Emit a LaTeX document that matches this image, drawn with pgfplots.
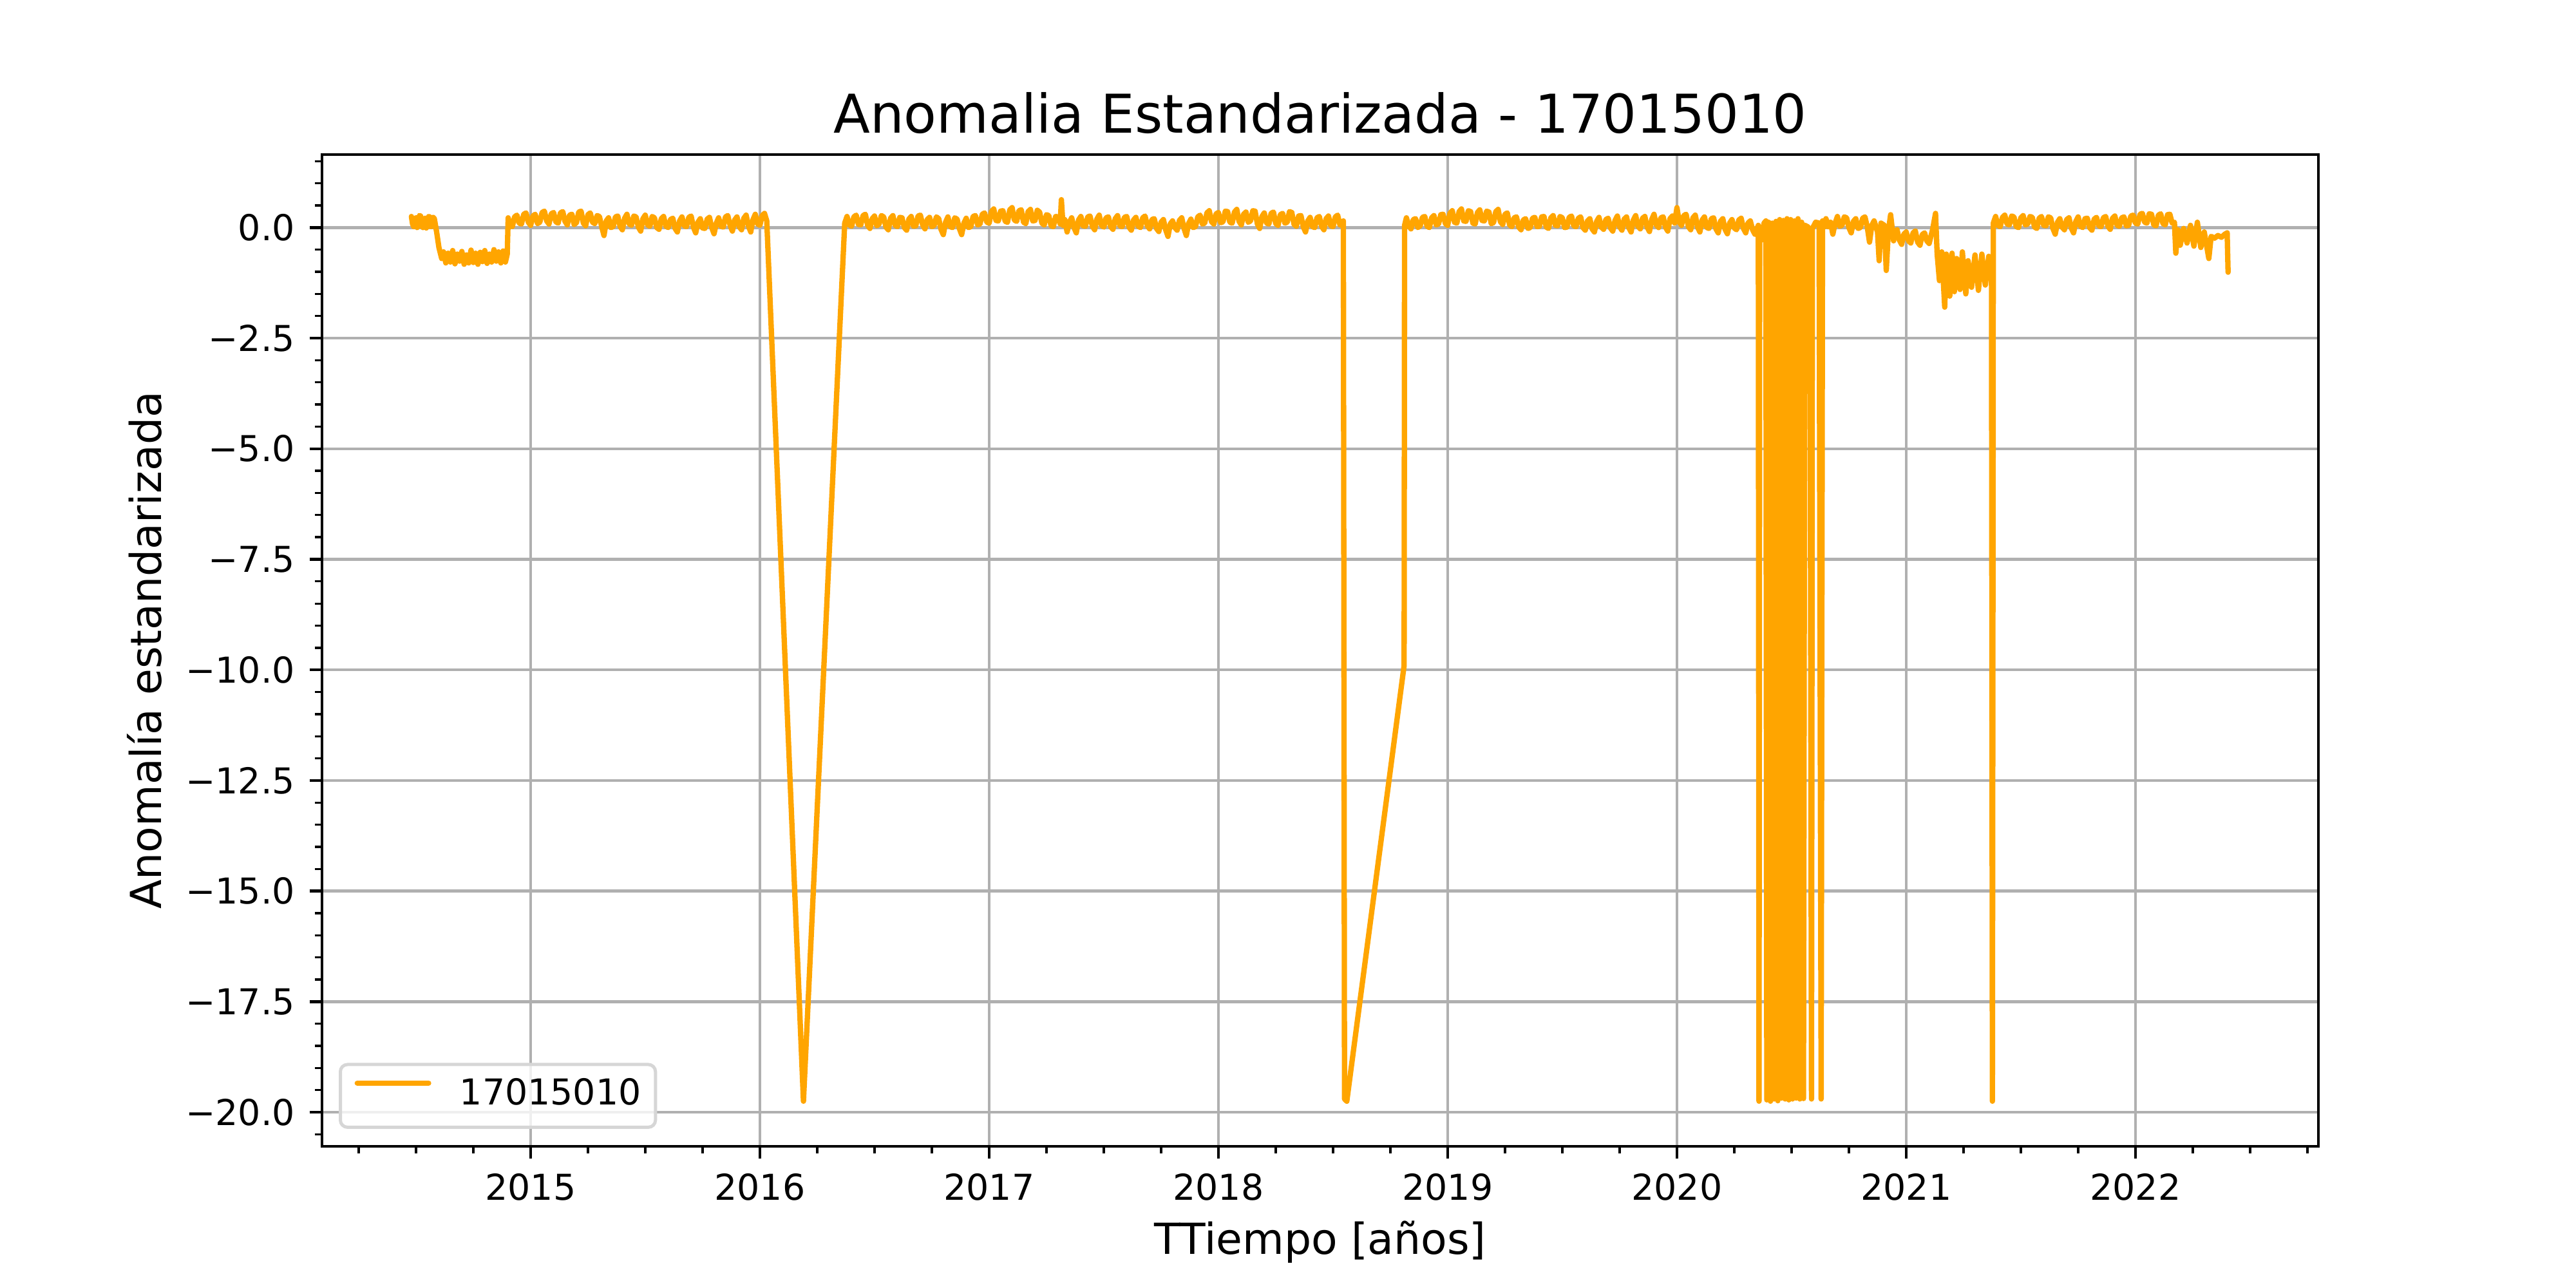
\documentclass[border=0pt]{standalone}
\usepackage{fontspec}
\setmainfont{DejaVu Sans}
\usepackage{pgfplots}
\usepackage{pgfplotstable}
\pgfplotsset{compat=1.18}
\definecolor{mplorange}{HTML}{FFA500}
\definecolor{gridgray}{HTML}{B0B0B0}
\definecolor{legedge}{HTML}{D6D6D6}
\pgfplotstableread{
x y
2014.480 0.25
2014.485 0.08
2014.490 0.02
2014.495 0.18
2014.500 0.22
2014.505 0.00
2014.510 0.05
2014.515 0.27
2014.520 0.26
2014.525 0.04
2014.530 0.00
2014.535 0.19
2014.540 0.21
2014.545 -0.01
2014.550 0.06
2014.555 0.25
2014.560 0.24
2014.565 0.02
2014.570 0.03
2014.575 0.23
2014.580 0.20
2014.590 -0.10
2014.600 -0.45
2014.612 -0.70
2014.620 -0.55
2014.630 -0.80
2014.640 -0.58
2014.650 -0.78
2014.660 -0.52
2014.670 -0.82
2014.680 -0.60
2014.690 -0.76
2014.700 -0.54
2014.710 -0.83
2014.720 -0.62
2014.730 -0.80
2014.740 -0.51
2014.750 -0.79
2014.760 -0.58
2014.770 -0.83
2014.780 -0.56
2014.790 -0.77
2014.800 -0.52
2014.810 -0.81
2014.820 -0.60
2014.830 -0.78
2014.840 -0.50
2014.850 -0.76
2014.860 -0.55
2014.870 -0.80
2014.880 -0.53
2014.890 -0.78
2014.898 -0.60
2014.902 0.22
2014.91 0.05
2014.92 0.02
2014.93 0.24
2014.94 0.28
2014.95 0.10
2014.96 0.08
2014.97 0.30
2014.98 0.33
2014.99 0.12
2015.00 0.05
2015.01 0.26
2015.02 0.30
2015.03 0.09
2015.04 0.12
2015.05 0.34
2015.06 0.37
2015.07 0.15
2015.08 0.08
2015.09 0.31
2015.10 0.34
2015.11 0.13
2015.12 0.10
2015.13 0.33
2015.14 0.36
2015.15 0.14
2015.16 0.06
2015.17 0.28
2015.18 0.30
2015.19 0.07
2015.20 0.11
2015.21 0.35
2015.22 0.37
2015.23 0.10
2015.24 0.04
2015.25 0.29
2015.26 0.33
2015.27 0.12
2015.28 0.09
2015.29 0.27
2015.30 0.25
2015.31 0.02
2015.32 -0.18
2015.33 0.15
2015.34 0.22
2015.35 0.00
2015.36 0.02
2015.37 0.24
2015.38 0.26
2015.39 0.03
2015.40 -0.05
2015.41 0.21
2015.42 0.30
2015.43 0.08
2015.44 0.05
2015.45 0.26
2015.46 0.24
2015.47 0.01
2015.48 -0.08
2015.49 0.20
2015.50 0.28
2015.51 0.06
2015.52 0.03
2015.53 0.25
2015.54 0.22
2015.55 0.00
2015.56 -0.04
2015.57 0.20
2015.58 0.25
2015.59 0.03
2015.60 0.00
2015.61 0.18
2015.62 0.21
2015.63 -0.02
2015.64 -0.10
2015.65 0.15
2015.66 0.24
2015.67 0.04
2015.68 0.02
2015.69 0.23
2015.70 0.26
2015.71 0.01
2015.72 -0.12
2015.73 0.12
2015.74 0.20
2015.75 -0.01
2015.76 -0.02
2015.77 0.19
2015.78 0.23
2015.79 0.00
2015.80 -0.14
2015.81 0.10
2015.82 0.22
2015.83 0.03
2015.84 0.01
2015.85 0.24
2015.86 0.27
2015.87 0.05
2015.88 -0.08
2015.89 0.17
2015.90 0.24
2015.91 0.02
2015.92 -0.05
2015.93 0.21
2015.94 0.28
2015.95 0.04
2015.96 -0.10
2015.97 0.18
2015.98 0.30
2015.99 0.08
2016.00 0.05
2016.01 0.27
2016.02 0.32
2016.03 0.15
2016.19 -19.75
2016.37 0.10
2016.38 0.25
2016.39 0.06
2016.40 0.03
2016.41 0.24
2016.42 0.28
2016.43 0.07
2016.44 0.06
2016.45 0.27
2016.46 0.30
2016.47 0.05
2016.48 -0.02
2016.49 0.20
2016.50 0.26
2016.51 0.04
2016.52 0.08
2016.53 0.27
2016.54 0.24
2016.55 0.01
2016.56 -0.05
2016.57 0.21
2016.58 0.27
2016.59 0.05
2016.60 0.02
2016.61 0.23
2016.62 0.22
2016.63 0.00
2016.64 -0.06
2016.65 0.19
2016.66 0.25
2016.67 0.03
2016.68 0.04
2016.69 0.26
2016.70 0.28
2016.71 0.06
2016.72 -0.03
2016.73 0.18
2016.74 0.23
2016.75 0.02
2016.76 0.05
2016.77 0.24
2016.78 0.20
2016.79 -0.04
2016.80 -0.16
2016.81 0.12
2016.82 0.24
2016.83 0.02
2016.84 0.00
2016.85 0.22
2016.86 0.19
2016.87 -0.02
2016.88 -0.16
2016.89 0.10
2016.90 0.21
2016.91 0.00
2016.92 0.02
2016.93 0.25
2016.94 0.27
2016.95 0.06
2016.96 0.08
2016.97 0.30
2016.98 0.33
2016.99 0.12
2017.00 0.10
2017.01 0.36
2017.02 0.42
2017.03 0.16
2017.04 0.15
2017.05 0.37
2017.06 0.38
2017.07 0.14
2017.08 0.12
2017.09 0.40
2017.10 0.45
2017.11 0.17
2017.12 0.14
2017.13 0.38
2017.14 0.40
2017.15 0.12
2017.16 0.09
2017.17 0.36
2017.18 0.41
2017.19 0.15
2017.20 0.16
2017.21 0.39
2017.22 0.35
2017.23 0.10
2017.24 0.06
2017.25 0.29
2017.26 0.27
2017.27 0.04
2017.28 0.02
2017.29 0.25
2017.30 0.24
2017.31 0.08
2017.315 0.63
2017.322 0.05
2017.33 0.18
2017.34 -0.10
2017.35 0.12
2017.36 0.22
2017.37 0.00
2017.38 -0.12
2017.39 0.17
2017.40 0.25
2017.41 0.04
2017.42 0.03
2017.43 0.24
2017.44 0.26
2017.45 0.03
2017.46 -0.05
2017.47 0.19
2017.48 0.28
2017.49 0.05
2017.50 0.01
2017.51 0.22
2017.52 0.24
2017.53 0.02
2017.54 -0.04
2017.55 0.20
2017.56 0.27
2017.57 0.04
2017.58 0.02
2017.59 0.23
2017.60 0.25
2017.61 0.01
2017.62 -0.06
2017.63 0.17
2017.64 0.23
2017.65 0.03
2017.66 0.00
2017.67 0.22
2017.68 0.26
2017.69 0.04
2017.70 -0.03
2017.71 0.18
2017.72 0.20
2017.73 -0.02
2017.74 -0.09
2017.75 0.12
2017.76 0.18
2017.77 -0.05
2017.78 -0.20
2017.79 0.08
2017.80 0.15
2017.81 0.00
2017.82 -0.06
2017.83 0.16
2017.84 0.22
2017.85 -0.02
2017.86 -0.18
2017.87 0.09
2017.88 0.19
2017.89 0.00
2017.90 0.02
2017.91 0.24
2017.92 0.28
2017.93 0.08
2017.94 0.10
2017.95 0.33
2017.96 0.38
2017.97 0.13
2017.98 0.08
2017.99 0.31
2018.00 0.34
2018.01 0.11
2018.02 0.13
2018.03 0.37
2018.04 0.36
2018.05 0.12
2018.06 0.10
2018.07 0.35
2018.08 0.41
2018.09 0.14
2018.10 0.06
2018.11 0.30
2018.12 0.35
2018.13 0.12
2018.14 0.15
2018.15 0.38
2018.16 0.37
2018.17 0.08
2018.18 -0.02
2018.19 0.25
2018.20 0.33
2018.21 0.10
2018.22 0.08
2018.23 0.32
2018.24 0.35
2018.25 0.09
2018.26 0.05
2018.27 0.29
2018.28 0.32
2018.29 0.10
2018.30 0.12
2018.31 0.36
2018.32 0.34
2018.33 0.07
2018.34 0.03
2018.35 0.26
2018.36 0.27
2018.37 0.02
2018.38 -0.10
2018.39 0.15
2018.40 0.23
2018.41 0.02
2018.42 0.00
2018.43 0.22
2018.44 0.25
2018.45 0.03
2018.46 -0.05
2018.47 0.20
2018.48 0.26
2018.49 0.04
2018.50 0.02
2018.51 0.24
2018.52 0.28
2018.53 0.06
2018.54 0.05
2018.545 0.15
2018.550 -19.70
2018.560 -19.75
2018.810 -9.90
2018.812 0.05
2018.82 0.22
2018.83 0.04
2018.84 -0.03
2018.85 0.18
2018.86 0.20
2018.87 0.00
2018.88 0.04
2018.89 0.23
2018.90 0.25
2018.91 0.03
2018.92 0.00
2018.93 0.22
2018.94 0.27
2018.95 0.06
2018.96 0.08
2018.97 0.29
2018.98 0.30
2018.99 0.09
2019.00 0.05
2019.01 0.32
2019.02 0.38
2019.03 0.12
2019.04 0.10
2019.05 0.36
2019.06 0.42
2019.07 0.15
2019.08 0.14
2019.09 0.38
2019.10 0.36
2019.11 0.10
2019.12 0.08
2019.13 0.34
2019.14 0.40
2019.15 0.16
2019.16 0.15
2019.17 0.37
2019.18 0.35
2019.19 0.09
2019.20 0.11
2019.21 0.36
2019.22 0.41
2019.23 0.13
2019.24 0.07
2019.25 0.30
2019.26 0.33
2019.27 0.06
2019.28 0.02
2019.29 0.22
2019.30 0.24
2019.31 0.01
2019.32 -0.05
2019.33 0.17
2019.34 0.20
2019.35 -0.02
2019.36 0.00
2019.37 0.21
2019.38 0.23
2019.39 0.02
2019.40 0.03
2019.41 0.24
2019.42 0.25
2019.43 0.01
2019.44 -0.02
2019.45 0.22
2019.46 0.27
2019.47 0.05
2019.48 0.04
2019.49 0.25
2019.50 0.22
2019.51 0.00
2019.52 0.01
2019.53 0.23
2019.54 0.26
2019.55 0.04
2019.56 0.02
2019.57 0.21
2019.58 0.24
2019.59 0.00
2019.60 -0.06
2019.61 0.15
2019.62 0.20
2019.63 -0.03
2019.64 -0.10
2019.65 0.14
2019.66 0.23
2019.67 0.01
2019.68 -0.04
2019.69 0.18
2019.70 0.21
2019.71 -0.01
2019.72 -0.08
2019.73 0.16
2019.74 0.26
2019.75 0.02
2019.76 -0.06
2019.77 0.19
2019.78 0.24
2019.79 0.00
2019.80 -0.10
2019.81 0.17
2019.82 0.27
2019.83 0.03
2019.84 -0.03
2019.85 0.21
2019.86 0.25
2019.87 0.01
2019.88 -0.09
2019.89 0.18
2019.90 0.30
2019.91 0.06
2019.92 0.00
2019.93 0.22
2019.94 0.24
2019.95 0.01
2019.96 -0.08
2019.97 0.20
2019.98 0.26
2019.99 0.10
2020.00 0.45
2020.01 0.12
2020.02 0.05
2020.03 0.27
2020.04 0.30
2020.05 0.02
2020.06 -0.05
2020.07 0.22
2020.08 0.28
2020.09 0.01
2020.10 -0.10
2020.11 0.17
2020.12 0.24
2020.13 0.00
2020.14 -0.02
2020.15 0.20
2020.16 0.22
2020.17 -0.03
2020.18 -0.12
2020.19 0.14
2020.20 0.20
2020.21 -0.04
2020.22 -0.14
2020.23 0.10
2020.24 0.18
2020.25 -0.01
2020.26 -0.05
2020.27 0.17
2020.28 0.21
2020.29 -0.02
2020.30 -0.12
2020.31 0.10
2020.32 0.15
2020.33 -0.05
2020.34 -0.15
2020.355 0.05
2020.358 -19.75
2020.361 0.00
2020.370 -0.28
2020.380 0.10
2020.388 0.15
2020.392 -19.72
2020.400 0.12
2020.408 -19.75
2020.416 0.10
2020.424 -19.70
2020.432 0.14
2020.440 -19.74
2020.448 0.18
2020.456 -19.68
2020.464 0.16
2020.472 -19.70
2020.480 0.20
2020.488 -19.72
2020.496 0.18
2020.504 -19.70
2020.512 0.15
2020.520 -19.68
2020.528 0.20
2020.536 -19.70
2020.544 0.12
2020.552 -19.69
2020.558 0.05
2020.570 0.02
2020.580 -0.05
2020.587 -19.70
2020.591 -0.02
2020.605 0.12
2020.620 0.10
2020.629 -19.70
2020.635 0.15
2020.645 0.02
2020.65 0.20
2020.66 0.02
2020.67 0.12
2020.68 -0.15
2020.69 0.10
2020.70 0.25
2020.71 0.03
2020.72 0.05
2020.73 0.24
2020.74 0.22
2020.75 0.00
2020.76 -0.12
2020.77 0.14
2020.78 0.20
2020.79 -0.02
2020.80 0.00
2020.81 0.21
2020.82 0.24
2020.83 0.02
2020.84 -0.33
2020.85 0.05
2020.86 0.15
2020.875 -0.10
2020.882 -0.75
2020.890 0.10
2020.905 0.05
2020.913 -0.97
2020.922 -0.10
2020.932 0.29
2020.945 -0.30
2020.95 -0.12
2020.96 -0.05
2020.97 -0.28
2020.98 -0.38
2020.99 -0.15
2021.00 -0.10
2021.01 -0.30
2021.02 -0.35
2021.03 -0.12
2021.04 -0.08
2021.05 -0.33
2021.06 -0.40
2021.07 -0.16
2021.08 -0.12
2021.09 -0.30
2021.10 -0.36
2021.115 -0.05
2021.128 0.32
2021.135 -0.60
2021.145 -1.20
2021.155 -0.55
2021.168 -1.80
2021.175 -0.60
2021.19 -1.55
2021.20 -0.58
2021.21 -1.45
2021.22 -0.70
2021.235 -1.40
2021.245 -0.55
2021.26 -1.50
2021.27 -0.75
2021.285 -1.35
2021.30 -0.62
2021.315 -1.42
2021.33 -0.60
2021.345 -1.30
2021.36 -0.65
2021.372 -1.00
2021.376 -19.75
2021.380 0.10
2021.39 0.25
2021.40 0.05
2021.41 0.02
2021.42 0.23
2021.43 0.28
2021.44 0.08
2021.45 0.06
2021.46 0.26
2021.47 0.24
2021.48 0.02
2021.49 0.00
2021.50 0.22
2021.51 0.27
2021.52 0.06
2021.53 0.08
2021.54 0.25
2021.55 0.23
2021.56 0.01
2021.57 -0.02
2021.58 0.21
2021.59 0.25
2021.60 0.05
2021.61 0.04
2021.62 0.24
2021.63 0.22
2021.64 -0.02
2021.65 -0.15
2021.66 0.12
2021.67 0.20
2021.68 0.01
2021.69 -0.05
2021.70 0.18
2021.71 0.22
2021.72 -0.01
2021.73 -0.12
2021.74 0.14
2021.75 0.24
2021.76 0.03
2021.77 0.00
2021.78 0.20
2021.79 0.21
2021.80 0.00
2021.81 -0.06
2021.82 0.19
2021.83 0.23
2021.84 0.04
2021.85 0.02
2021.86 0.22
2021.87 0.25
2021.88 0.03
2021.89 -0.04
2021.90 0.21
2021.91 0.26
2021.92 0.05
2021.93 0.03
2021.94 0.22
2021.95 0.24
2021.96 0.04
2021.97 0.05
2021.98 0.26
2021.99 0.28
2022.00 0.10
2022.01 0.08
2022.02 0.30
2022.03 0.32
2022.04 0.12
2022.05 0.10
2022.06 0.31
2022.07 0.30
2022.08 0.06
2022.09 0.04
2022.10 0.28
2022.11 0.31
2022.12 0.09
2022.13 0.06
2022.14 0.29
2022.15 0.30
2022.16 0.10
2022.17 0.12
2022.176 -0.58
2022.185 -0.05
2022.195 -0.40
2022.21 -0.02
2022.225 -0.35
2022.24 0.05
2022.255 -0.42
2022.27 0.12
2022.285 -0.45
2022.30 -0.10
2022.32 -0.70
2022.33 -0.20
2022.345 -0.24
2022.36 -0.18
2022.375 -0.22
2022.39 -0.15
2022.400 -0.12
2022.404 -1.01
}\datatable
\begin{document}
\begin{tikzpicture}
\path[use as bounding box, fill=white] (0,0) rectangle (10in,5in);
\begin{axis}[
  at={(1.25in,0.55in)}, anchor=south west,
  scale only axis, width=7.75in, height=3.85in,
  xmin=2014.09, xmax=2022.798, ymin=-20.77, ymax=1.65,
  xtick={2015,2016,2017,2018,2019,2020,2021,2022},
  xticklabels={2015,2016,2017,2018,2019,2020,2021,2022},
  minor xtick={2014.25,2014.5,...,2022.75},
  ytick={-20,-17.5,-15,-12.5,-10,-7.5,-5,-2.5,0},
  yticklabels={−20.0,−17.5,−15.0,−12.5,−10.0,−7.5,−5.0,−2.5,0.0},
  minor ytick={-20.5,-20,...,1.5},
  tick pos=left, tick align=outside,
  major tick length=3.5pt, minor tick length=2pt,
  major tick style={black, line width=0.8pt},
  minor tick style={black, line width=0.6pt},
  axis line style={black, line width=0.8pt},
  grid=major, major grid style={gridgray, line width=0.8pt},
  x tick label style={font=\fontsize{10}{12}\selectfont, inner sep=0pt, anchor=north, yshift=-3.9pt},
  y tick label style={font=\fontsize{10}{12}\selectfont, inner sep=0pt, anchor=east, xshift=-3.9pt},
  title={Anomalia Estandarizada - 17015010},
  title style={font=\fontsize{15}{18}\selectfont, at={(axis description cs:0.5,1)}, anchor=base, inner sep=0pt},
  xlabel={TTiempo [años]},
  xlabel style={font=\fontsize{12}{14}\selectfont, at={(axis description cs:0.5,-0.1085)}, anchor=base, inner sep=0pt},
  ylabel={Anomalía estandarizada},
  ylabel style={font=\fontsize{12}{14}\selectfont, at={(axis description cs:-0.0805,0.5)}, anchor=base, inner sep=0pt},
  legend style={at={(axis description cs:0,0)}, anchor=south west, xshift=4.7pt, yshift=4.9pt,
    draw=legedge, line width=0.9pt, rounded corners=2pt, fill=white, fill opacity=0.8, text opacity=1,
    inner xsep=4pt, inner ysep=4pt, font=\fontsize{10}{12}\selectfont,
    nodes={inner sep=0pt, text height=7.3pt, text depth=2.3pt}, column sep=8pt},
  legend cell align=left,
  legend image code/.code={\draw[#1] (0pt,3.6pt) -- (20pt,3.6pt);},
]
\addplot[mplorange, line width=1.5pt, line join=round, line cap=round] table[x=x,y=y] {\datatable};
\addlegendentry{17015010}
\end{axis}
\end{tikzpicture}
\end{document}
